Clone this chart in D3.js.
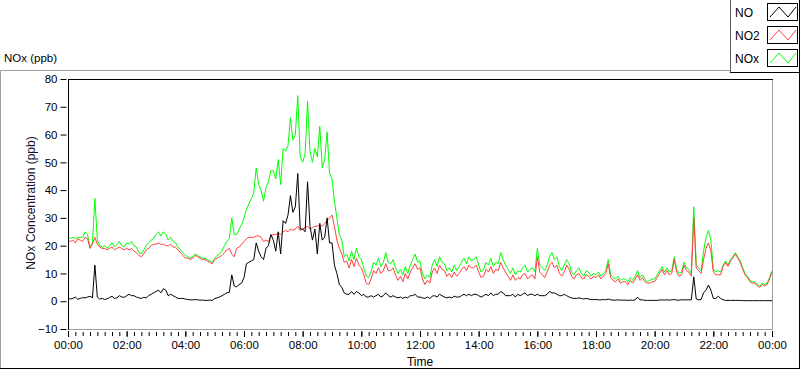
<!DOCTYPE html>
<html><head><meta charset="utf-8">
<script src="https://cdn.jsdelivr.net/npm/d3@7"></script>
<style>
html,body{margin:0;padding:0;background:#fff;}
svg text{font-family:"Liberation Sans",Arial,sans-serif;}
</style></head>
<body><svg id="c" width="800" height="369"></svg>
<script>
// 5-minute samples from 00:00 to 24:00 (289 values each), ppb
const NOx = [
23.5,22.5,23,22.5,23,23,23,25,24,19.5,21,37,
22,20,19.5,20,19,20,21,19.5,20.5,21.5,20,19.5,
21,20.5,21.5,20,19.5,17.5,17,18.5,20,21,22,22.5,
24,25,23.5,25,24,22,23,21.5,21,19.5,18.5,17.5,
16.5,16,15.5,16,17,16.5,16,15.5,15.5,15,14.5,14,
15.5,16.5,17,18,20,21.5,22.5,30,24,24,26,27.5,
30,33,35,37,39,48,42,40,36,41,43,47,
47,44,51,42,55,54,56,66,58,60,74,52,
50,53,72,54,50,55,52,63,48,51,61,46,
44,36,30,24,22,16,17,14.5,18,15,19,16,
15,12,9,8.5,10.5,14,13,15.5,12.5,14,17.5,14,
13.5,15,12,10,11.5,9.5,12.5,10,13,15,17,14,
14.5,10,8,9.5,8.5,13,15,12.5,16,14,13.5,11,
12,10.5,13,11,12.5,14,15.5,13.5,16,14.5,15,16,
13,10.5,11.5,14,13,15.5,12.5,14,13.5,17.5,15,13,
11.5,10,12,9.5,11,10.5,12,13,10.5,11.5,12,10.5,
19,13,12,11,13,16,17.5,15,16,12.5,11,13,
15,13.5,10.5,9.5,11,12,10,9,11,10.5,9,10,
9.5,10.5,9,10,11,15,9.5,8.5,8,9,7.5,8,
8,7,8.5,7.5,9,11,8.5,9.5,8,7,7.5,8,
8,9.5,11,12.5,10.5,12,10.5,11,16,11.5,10,10.5,
14,12,11.5,10,34,13,12,11,18,23,25.5,22,
11.5,10.5,11,10.5,13,14.5,13,15,16,17.5,16,14.5,
12,10,9,7.5,7,7,6,5.5,6.5,6,6.5,8.5,
11];
const NO2 = [
22,21.5,22,21,22.5,22,21.5,23,22.5,19,20.5,23,
20.5,19.5,19,19,18.5,19,19.5,18.5,19,19.5,19,18.5,
19,18.5,19,18,17.5,16.5,16,17,18.5,19,20,20.5,
20.5,21,20.5,20.5,20,20,20.5,19.5,19.5,18.5,17.5,16.5,
15.5,15.5,15,15.5,16.5,16,15.5,15,15,14.5,14,13.5,
15,15.5,16,16.5,17.5,18.5,19,17,16,19,19.5,20.5,
21.5,22.5,23,23,23,23.5,23.5,23,21.5,22,21.5,23.5,
24,24,24.5,24,25,25.5,25,26,25.5,26,27,25.5,
26,26.5,27,26,26.5,27,27,27.5,27,28,29,30,
31,27,22,19,17,14,14.5,12,15,12.5,15.5,13,
12,9.5,6.5,6,8,11,10,12,10,11,13.5,11,
11,12,9.5,7.5,9,7,10,8,10.5,12,13.5,11.5,
12,8,6,7.5,6.5,10.5,12,10,13,11.5,11,9,
10,8.5,10.5,9,10,11.5,12.5,11,13,12,12,13,
10.5,8.5,9,11.5,10.5,12.5,10,11.5,11,14,12,10.5,
9,7.5,9.5,7.5,8.5,8,9.5,10,8,9,9.5,8,
16,10.5,9.5,8.5,10.5,13,14,12,13,10,9,10.5,
13,11.5,9,8,9.5,10,8.5,8,9.5,9,8,9,
8.5,9.5,8,9,10,13.5,8.5,7.5,7,8,6.5,7,
7,6,7.5,6.5,8,9.5,7.5,8.5,7,6.5,6.5,7,
7,8.5,10,11.5,9.5,11,9.5,10,15,10.5,9,9.5,
13,11,10.5,9,30,12,11,10,15,19,21,18,
10.5,9.5,9.5,9.5,12.5,14,12.5,14.5,15.5,17,15.5,14,
11.5,9.5,8.5,7,6.5,6.5,5.5,5,6,5.5,6,8,
10.5];
const NO = [
1.2,0.8,1,1.5,0.7,1,1.3,1.2,1.5,1.8,1.2,13,
1.5,0.8,1,0.6,0.9,1.3,1.8,1,1.2,2,1.5,1.4,
2,2.5,2,2,1.5,1.2,1,1.4,1.2,2,2.5,3,
3.5,4,3,4.5,4,2,2.5,2,1.5,1,1,1,
0.8,0.6,0.5,0.5,0.6,0.5,0.4,0.4,0.3,0.3,0.4,0.3,
1,1.2,1.5,2,2.5,3,3.2,9.5,5.5,5.2,6,6.5,
8.5,13.5,14,14.5,15,21,18,16,15,19,20,24,
22,18,25,17,29,28,31,38,32,34,46,26,
26,25,43,27,22,26,17,28,22,23,30,21,
21,13,10,6,5,3,2.5,2.5,3.5,2.5,3.5,3,
2,2.5,1.5,1.5,2,1.5,2,2.5,1.5,2,3,2,
1.5,2,1.5,1.2,1.5,1,1.5,1.2,2,2,2.5,1.5,
1.5,1.2,1,1.5,1,1.8,2,1.5,2.5,2,1.5,1.2,
1.5,1.2,1.8,1.5,1.5,2,2.5,2,2.5,2,2.5,2.5,
2,1.5,2,2.5,2,3,2,2.5,2.5,3.5,3,2,
2,2,2.5,1.5,2.5,2,2.5,3,2,2.5,2.5,2,
2.5,2,2,2,2.5,3.5,3,3,2.5,2,2,2.5,
2,1.5,1.2,1,1,1.2,1,0.8,1,0.8,0.6,0.6,
0.6,0.5,0.5,0.6,0.5,0.8,0.5,0.4,0.4,0.5,0.4,0.4,
0.4,0.3,0.4,0.3,0.5,1.5,0.5,0.5,0.3,0.3,0.3,0.3,
0.3,0.3,0.4,0.5,0.4,0.5,0.4,0.5,0.6,0.4,0.4,0.5,
0.5,0.5,0.5,0.5,8.8,0.8,0.5,0.6,3,4,5.8,4,
1,1,1.8,1,0.5,0.3,0.3,0.3,0.3,0.3,0.3,0.3,
0.2,0.2,0.2,0.2,0.2,0.2,0.2,0.2,0.2,0.2,0.2,0.2,
0.2];
const seriesNames = ["NO","NO2","NOx"];
const seriesColors = ["#000000","#ff4040","#00ff00"];
const yTicks = [-10,0,10,20,30,40,50,60,70,80];
const xTickLabels = ["00:00","02:00","04:00","06:00","08:00","10:00","12:00","14:00","16:00","18:00","20:00","22:00","00:00"];
const STEP_MIN = 5;

const svg = d3.select("#c");
const L=68,R=772,T=79,B=329;
const x = d3.scaleLinear().domain([0,1440]).range([L,R]);
const y = d3.scaleLinear().domain([-10,80]).range([B,T]);

// outer panel frame
svg.append("line").attr("x1",0.5).attr("y1",70.5).attr("x2",730).attr("y2",70.5).attr("stroke","#a0a0a0");
svg.append("line").attr("x1",0.5).attr("y1",70.5).attr("x2",0.5).attr("y2",368).attr("stroke","#a0a0a0");
svg.append("line").attr("x1",0).attr("y1",368.5).attr("x2",800).attr("y2",368.5).attr("stroke","#000");
svg.append("line").attr("x1",799.5).attr("y1",0).attr("x2",799.5).attr("y2",369).attr("stroke","#000");

svg.append("text").attr("x",4).attr("y",62).attr("font-size","11.5px").attr("fill","#000").text("NOx (ppb)");

// plot frame
svg.append("line").attr("x1",R+0.5).attr("y1",T).attr("x2",R+0.5).attr("y2",B+1).attr("stroke","#a0a0a0");
svg.append("line").attr("x1",L).attr("y1",B+0.5).attr("x2",R+1).attr("y2",B+0.5).attr("stroke","#a0a0a0");
svg.append("line").attr("x1",L+0.5).attr("y1",T+0.5).attr("x2",R+1).attr("y2",T+0.5).attr("stroke","#000");
svg.append("line").attr("x1",L+0.5).attr("y1",T).attr("x2",L+0.5).attr("y2",B+1).attr("stroke","#000");

// y axis
const yAx = svg.append("g").attr("transform","translate(66.5,0)")
  .call(d3.axisLeft(y).tickValues(yTicks).tickSize(6).tickPadding(3).tickFormat(d3.format("d")));
yAx.select(".domain").remove();
yAx.selectAll("text").attr("font-size","11.5px").attr("font-family","Liberation Sans, Arial, sans-serif").attr("fill","#000");
yAx.selectAll(".tick line").attr("stroke","#000");

// x axis: minor (15 min) then major (2 h)
const minor = d3.range(0,1441,15);
const xMin = svg.append("g").attr("transform","translate(0,332)")
  .call(d3.axisBottom(x).tickValues(minor).tickSize(4).tickFormat(""));
xMin.select(".domain").remove();
xMin.selectAll(".tick line").attr("stroke","#000");
const major = xTickLabels.map((_,i)=>i*120);
const xMaj = svg.append("g").attr("transform","translate(0,331)")
  .call(d3.axisBottom(x).tickValues(major).tickSize(6).tickPadding(4).tickFormat((d,i)=>xTickLabels[i]));
xMaj.select(".domain").remove();
xMaj.selectAll("text").attr("font-size","11.5px").attr("font-family","Liberation Sans, Arial, sans-serif").attr("fill","#000");
xMaj.selectAll(".tick line").attr("stroke","#000");

svg.append("text").attr("x",420).attr("y",366).attr("text-anchor","middle").attr("font-size","12px").attr("fill","#000").text("Time");
svg.append("text").attr("transform","translate(35,203) rotate(-90)").attr("text-anchor","middle")
  .attr("font-size","12px").attr("fill","#101030").text("NOx Concentration (ppb)");

// data lines
svg.append("clipPath").attr("id","clip").append("rect").attr("x",L+1).attr("y",T+1).attr("width",R-L-1).attr("height",B-T-1);
const g = svg.append("g").attr("clip-path","url(#clip)");
const line = d3.line().x((d,i)=>x(i*STEP_MIN)).y(d=>y(d));
[[NOx,seriesColors[2]],[NO2,seriesColors[1]],[NO,seriesColors[0]]].forEach(([arr,c])=>{
  g.append("path").datum(arr).attr("d",line).attr("fill","none").attr("stroke",c).attr("stroke-width",1);
});

// legend
const lg = svg.append("g");
lg.append("line").attr("x1",730.5).attr("y1",0).attr("x2",730.5).attr("y2",72).attr("stroke","#606060");
lg.append("line").attr("x1",730).attr("y1",72.5).attr("x2",800).attr("y2",72.5).attr("stroke","#000");
seriesNames.forEach((n,i)=>{
  const ty = 4 + i*23;
  lg.append("text").attr("x",735).attr("y",ty+13).attr("font-size","12px").attr("fill","#000").text(n);
  lg.append("rect").attr("x",767.5).attr("y",ty-0.5).attr("width",30).attr("height",17).attr("fill","#fff").attr("stroke","#000");
  lg.append("polyline").attr("points",[[770,ty+13],[779,ty+3],[788,ty+13],[796,ty+3]].map(p=>p.join(",")).join(" "))
    .attr("fill","none").attr("stroke",seriesColors[i]).attr("stroke-width",1);
});
</script></body></html>
